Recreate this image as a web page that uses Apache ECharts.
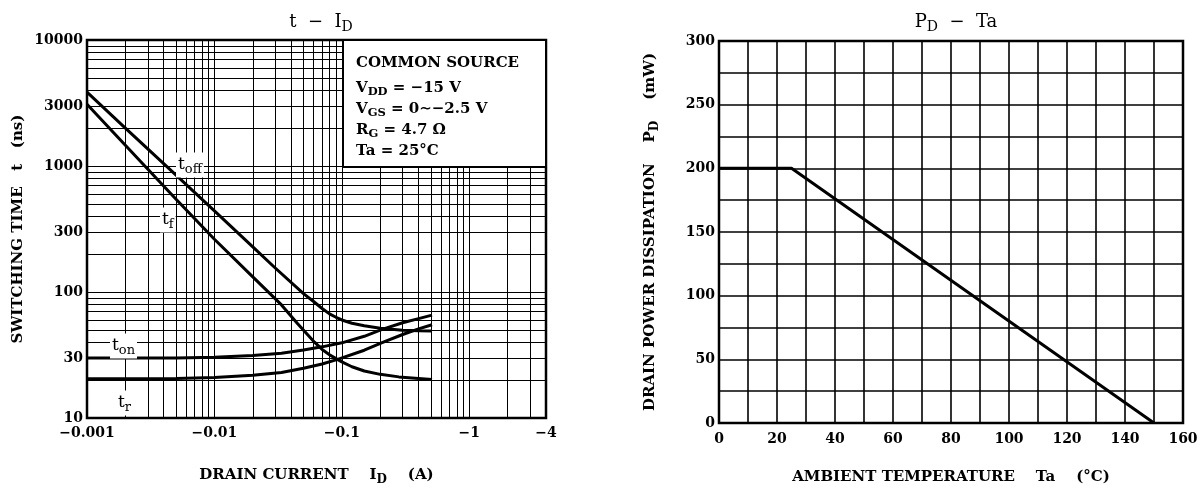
<!DOCTYPE html>
<html><head><meta charset="utf-8">
<script src="https://cdn.jsdelivr.net/npm/echarts@6/dist/echarts.min.js"></script>
<style>html,body{margin:0;padding:0;background:#fff}#c{width:1204px;height:491px}</style>
</head><body><div id="c"></div>
<script>
const FONT = 'DejaVu Serif';
// ---- Left chart: switching time t (ns) vs drain current |ID| (A)
const idLabelTicks = [0.001, 0.01, 0.1, 1, 4];
const tLabelTicks = [10, 30, 100, 300, 1000, 3000, 10000];
const idGridLines = [0.001,0.002,0.003,0.004,0.005,0.006,0.007,0.008,0.009,
  0.01,0.02,0.03,0.04,0.05,0.06,0.07,0.08,0.09,
  0.1,0.2,0.3,0.4,0.5,0.6,0.7,0.8,0.9,1,2,3,4];
const tGridLines = [10,20,30,40,50,60,70,80,90,100,200,300,400,500,600,700,800,900,
  1000,2000,3000,4000,5000,6000,7000,8000,9000,10000];
const tOff = [[0.001,3860],[0.002,2000],[0.005,845],[0.01,440],[0.02,228],[0.03,155],[0.05,97],
  [0.06,84],[0.07,74],[0.08,67],[0.09,63],[0.1,60],[0.12,56.5],[0.15,54],[0.2,51.5],[0.3,49.8],[0.4,49.2],[0.51,49]];
const tF = [[0.001,3090],[0.002,1460],[0.005,545],[0.01,262],[0.02,132],[0.0336,79],[0.045,56],
  [0.061,40],[0.07,35],[0.08,31.8],[0.09,29.6],[0.1,27.9],[0.12,25.5],[0.15,23.6],[0.2,22.2],[0.28,21.2],[0.4,20.6],[0.51,20.2]];
const tOn = [[0.001,30],[0.005,30],[0.01,30.3],[0.02,31.3],[0.0336,32.7],[0.05,34.6],[0.07,36.7],
  [0.1,39.5],[0.15,44.5],[0.207,50.5],[0.3,57],[0.4,61.5],[0.51,65.5]];
const tR = [[0.001,20.5],[0.005,20.6],[0.01,21],[0.02,21.8],[0.0336,23],[0.05,24.8],[0.07,26.8],
  [0.094,29.3],[0.15,34.5],[0.207,39.6],[0.3,46],[0.4,51],[0.51,55]];
// ---- Right chart: PD (mW) vs Ta (°C)
const pdCurve = [[0,200],[25,200],[150,0]];

const chart = echarts.init(document.getElementById('c'), null, {renderer:'canvas'});
const tickFont = {fontFamily: FONT, fontSize: 14, fontWeight: 'bold', color: '#000'};
const nameFont = {fontFamily: FONT, fontSize: 15, fontWeight: 'bold', color: '#000'};
const subRich = {
  s: {fontFamily: FONT, fontSize: 12, fontWeight: 'bold', color: '#000', padding: [9,0,0,0]}
};
const fmtNum = v => String(Number(v.toPrecision(6)));
const curve = (data) => ({
  type: 'line', xAxisIndex: 0, yAxisIndex: 0, data, showSymbol: false, symbol: 'none',
  smooth: false, silent: true, z: 5,
  lineStyle: {color: '#000', width: 3, join: 'round'}
});
const titleRich = {s: {fontFamily: FONT, fontSize: 14, color: '#000', padding: [10,0,0,0]}};

chart.setOption({
  animation: false,
  backgroundColor: '#fff',
  title: [
    {text: 't  −  I{s|D}', left: 316, top: 5, textAlign: 'center',
     textStyle: {fontFamily: FONT, fontSize: 18, fontWeight: 'normal', color: '#000', rich: titleRich}},
    {text: 'P{s|D}  −  Ta', left: 951, top: 5, textAlign: 'center',
     textStyle: {fontFamily: FONT, fontSize: 18, fontWeight: 'normal', color: '#000', rich: titleRich}}
  ],
  grid: [
    {left: 87, top: 40, width: 459, height: 383, show: true, borderColor: '#000', borderWidth: 2.5, backgroundColor: '#fff'},
    {left: 719, top: 41, width: 464, height: 382, show: true, borderColor: '#000', borderWidth: 2.5, backgroundColor: '#fff'}
  ],
  xAxis: [
    {type: 'log', logBase: 10, gridIndex: 0, min: 0.001, max: 4,
     name: 'DRAIN CURRENT    I{s|D}    (A)', nameLocation: 'middle', nameGap: 47,
     nameTextStyle: Object.assign({}, nameFont, {rich: subRich}),
     axisLine: {show: false}, axisTick: {show: false, customValues: idGridLines},
     splitLine: {show: true, lineStyle: {color: '#000', width: 1}},
     axisLabel: Object.assign({}, tickFont, {customValues: idLabelTicks, margin: 8,
       formatter: v => '−' + fmtNum(v)})},
    {type: 'value', gridIndex: 1, min: 0, max: 160, interval: 10,
     name: 'AMBIENT TEMPERATURE    Ta    (°C)', nameLocation: 'middle', nameGap: 47,
     nameTextStyle: nameFont,
     axisLine: {show: false}, axisTick: {show: false},
     splitLine: {show: true, lineStyle: {color: '#000', width: 1.6}},
     axisLabel: Object.assign({}, tickFont, {margin: 9, showMinLabel: true, showMaxLabel: true,
       formatter: v => (v % 20 === 0 ? String(v) : '')})}
  ],
  yAxis: [
    {type: 'log', logBase: 10, gridIndex: 0, min: 10, max: 10000,
     name: 'SWITCHING TIME   t   (ns)', nameLocation: 'middle', nameGap: 61,
     nameTextStyle: nameFont,
     axisLine: {show: false}, axisTick: {show: false, customValues: tGridLines},
     splitLine: {show: true, lineStyle: {color: '#000', width: 1}},
     axisLabel: Object.assign({}, tickFont, {customValues: tLabelTicks, margin: 4,
       formatter: v => fmtNum(v)})},
    {type: 'value', gridIndex: 1, min: 0, max: 300, interval: 25,
     name: 'DRAIN POWER DISSIPATION    P{s|D}    (mW)', nameLocation: 'middle', nameGap: 58,
     nameTextStyle: Object.assign({}, nameFont, {rich: subRich}),
     axisLine: {show: false}, axisTick: {show: false},
     splitLine: {show: true, lineStyle: {color: '#000', width: 1.6}},
     axisLabel: Object.assign({}, tickFont, {margin: 4,
       formatter: v => (v % 50 === 0 ? String(v) : '')})}
  ],
  series: [
    curve(tOff), curve(tF), curve(tOn), curve(tR),
    {type: 'line', xAxisIndex: 1, yAxisIndex: 1, data: pdCurve, showSymbol: false, symbol: 'none',
     silent: true, z: 5, lineStyle: {color: '#000', width: 3}}
  ]
});

// Annotations (condition box and curve labels)
const lblRich = {
  m: {fontFamily: FONT, fontSize: 17, color: '#000'},
  s: {fontFamily: FONT, fontSize: 13, color: '#000', padding: [10,0,0,0]}
};
const boxRich = {
  m: {fontFamily: FONT, fontSize: 15, fontWeight: 'bold', color: '#000'},
  s: {fontFamily: FONT, fontSize: 11.5, fontWeight: 'bold', color: '#000', padding: [9,0,0,0]}
};
const boxLines = ['{m|COMMON SOURCE}', '{m|V}{s|DD}{m| = −15 V}', '{m|V}{s|GS}{m| = 0∼−2.5 V}',
  '{m|R}{s|G}{m| = 4.7 Ω}', '{m|Ta = 25°C}'];
const boxY = [63, 88, 109, 130, 151];
const txt = (x, y, text, rich, bg) => ({
  type: 'text', x, y, z: 100, silent: true,
  style: {text, rich, align: 'left', verticalAlign: 'middle', backgroundColor: bg ? '#fff' : null,
    padding: bg ? [1,2,1,2] : 0}
});
chart.setOption({graphic: [
  {type: 'rect', z: 90, silent: true, shape: {x: 343, y: 40, width: 203, height: 127},
   style: {fill: '#fff', stroke: '#000', lineWidth: 2}},
  ...boxLines.map((t, i) => txt(356, boxY[i], t, boxRich, false)),
  txt(176, 165, '{m|t}{s|off}', lblRich, true),
  txt(160, 220, '{m|t}{s|f}', lblRich, true),
  txt(110, 346, '{m|t}{s|on}', lblRich, true),
  txt(116, 403, '{m|t}{s|r}', lblRich, true)
]});
</script></body></html>
